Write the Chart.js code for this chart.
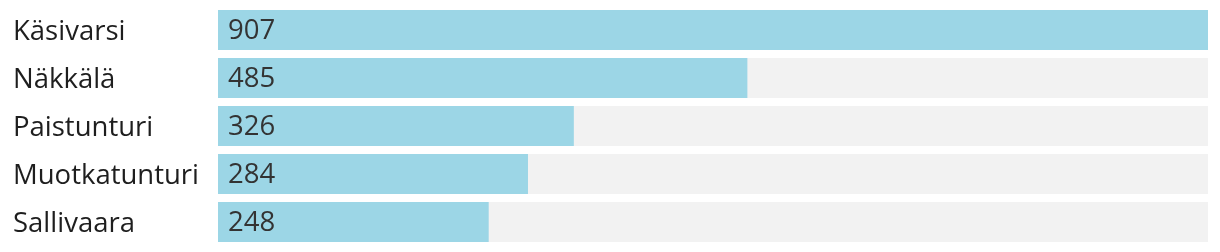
<!DOCTYPE html>
<html>
<head>
<meta charset="utf-8">
<script src="https://cdn.jsdelivr.net/npm/chart.js@4"></script>
<style>
  html, body { margin: 0; padding: 0; background: #fff; }
  #wrap { width: 1220px; height: 252px; }
</style>
</head>
<body>
<div id="wrap"><canvas id="chart"></canvas></div>
<script>
const categories = ["Käsivarsi", "Näkkälä", "Paistunturi", "Muotkatunturi", "Sallivaara"];
const values = [907, 485, 326, 284, 248];
const maxValue = 907;

const FONT = "'Open Sans', sans-serif";
const FONT_SIZE = 27.5;

// draws the number inside each bar, near its left edge
const valueLabels = {
  id: "valueLabels",
  afterDatasetsDraw(chart) {
    const ctx = chart.ctx;
    const meta = chart.getDatasetMeta(0);
    ctx.save();
    ctx.font = FONT_SIZE + "px " + FONT;
    ctx.fillStyle = "#333333";
    ctx.textBaseline = "middle";
    ctx.textAlign = "left";
    meta.data.forEach((bar, i) => {
      ctx.fillText(String(values[i]), chart.chartArea.left + 10, bar.y + 1);
    });
    ctx.restore();
  }
};

new Chart(document.getElementById("chart"), {
  type: "bar",
  data: {
    labels: categories,
    datasets: [{
      data: values,
      backgroundColor: "#9cd6e6",
      grouped: false,
      barPercentage: 1,
      categoryPercentage: 40 / 48
    }, {
      data: categories.map(() => maxValue),
      backgroundColor: "#f2f2f2",
      grouped: false,
      barPercentage: 1,
      categoryPercentage: 40 / 48
    }]
  },
  options: {
    indexAxis: "y",
    responsive: true,
    maintainAspectRatio: false,
    animation: false,
    layout: { padding: { left: 13, right: 12, top: 6, bottom: 6 } },
    plugins: { legend: { display: false }, tooltip: { enabled: false } },
    scales: {
      x: {
        display: false,
        min: 0,
        max: maxValue
      },
      y: {
        grid: { display: false },
        border: { display: false },
        ticks: {
          crossAlign: "far",
          labelOffset: 2,
          color: "#1e1e1e",
          font: { family: FONT, size: FONT_SIZE }
        },
        afterFit(scale) {
          scale.width = 205;
          scale.paddingTop = 0;
          scale.paddingBottom = 0;
        }
      }
    }
  },
  plugins: [valueLabels]
});
</script>
</body>
</html>
